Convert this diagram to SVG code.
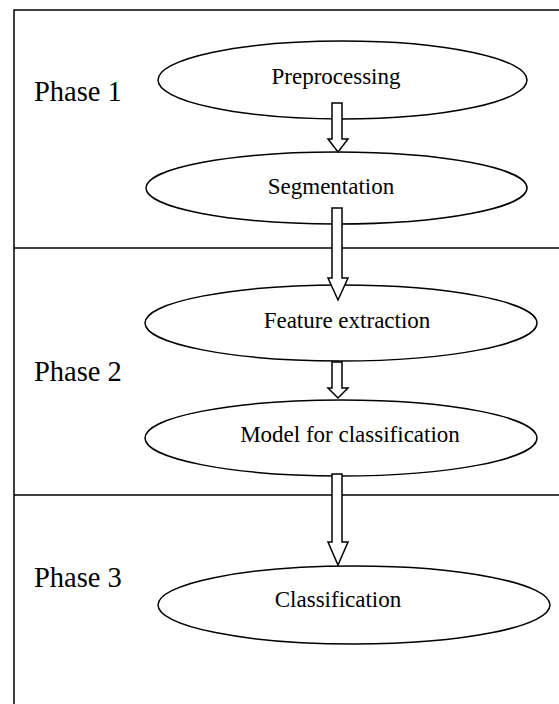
<svg xmlns="http://www.w3.org/2000/svg" width="559" height="704" viewBox="0 0 559 704">
<style>
.frame{fill:none;stroke:#000;stroke-width:1.5}
.node ellipse{fill:#fff;stroke:#000;stroke-width:1.5}
.node text{font-family:"Liberation Serif","Times New Roman",serif;font-size:23px;text-anchor:middle;fill:#000}
.phase{font-family:"Liberation Serif","Times New Roman",serif;font-size:28.5px;fill:#000}
.arrow{fill:#fff;stroke:#000;stroke-width:1.5;stroke-linejoin:miter}
</style>
<rect width="559" height="704" fill="#fff"/>
<g id="frame">
<rect class="frame" x="14" y="10" width="560" height="710"/>
<line class="frame" x1="14" y1="248" x2="559" y2="248"/>
<line class="frame" x1="14" y1="495" x2="559" y2="495"/>
<text class="phase" x="34" y="101">Phase 1</text>
<text class="phase" x="34" y="381">Phase 2</text>
<text class="phase" x="34" y="587">Phase 3</text>
</g>
<g id="n1" class="node"><ellipse cx="342.5" cy="80" rx="184.5" ry="39"/><text x="336" y="84">Preprocessing</text></g>
<g id="n2" class="node"><ellipse cx="336.5" cy="188" rx="190.5" ry="36"/><text x="331" y="194">Segmentation</text></g>
<g id="n3" class="node"><ellipse cx="341" cy="323" rx="196" ry="38"/><text x="347" y="328">Feature extraction</text></g>
<g id="n4" class="node"><ellipse cx="341" cy="438" rx="196" ry="38"/><text x="350" y="442">Model for classification</text></g>
<g id="n5" class="node"><ellipse cx="354" cy="605" rx="196" ry="39"/><text x="338" y="607">Classification</text></g>
<g id="connectors">
<polygon class="arrow" points="332,103 342,103 342,139 348,139 338,152 328,139 332,139"/>
<polygon class="arrow" points="332,208 342,208 342,278 348,278 338,300 328,278 332,278"/>
<polygon class="arrow" points="332,362 342,362 342,388 348,388 338,398 328,388 332,388"/>
<polygon class="arrow" points="332,474 342,474 342,542 348,542 338,565 328,542 332,542"/>
</g>
</svg>
